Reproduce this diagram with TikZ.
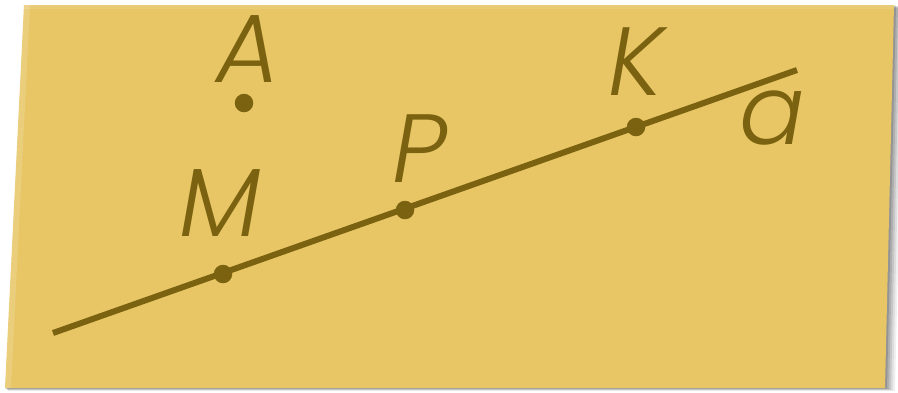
\documentclass[tikz,border=0pt]{standalone}
\usepackage{fontspec}
\setmainfont{Poppins Light}[ItalicFont={Poppins Light Italic}]
\definecolor{planefill}{RGB}{232,198,102}
\definecolor{ink}{RGB}{122,98,16}
\tikzset{
  lbl/.style={text=ink, anchor=base, inner sep=0pt, font=\fontsize{97}{97}\selectfont\itshape},
  pt/.style={circle, fill=ink, minimum size=18.5pt, inner sep=0pt},
  ln/.style={draw=ink, line width=6pt}
}
\begin{document}
\begin{tikzpicture}[x=1pt,y=-1pt]
\useasboundingbox (0,0) rectangle (898,392);
% shadow
\foreach \d/\o in {10/0.06,8/0.08,6/0.1,4/0.12,2/0.15}{
  \fill[black,opacity=\o] (24+\d*0.3,5+\d*0.3) -- (894+\d,5+\d*0.3) -- (885+\d,388+\d*0.3) -- (5+\d*0.3,388+\d*0.3) -- cycle;
}
\fill[planefill] (24,5) -- (894,5) -- (885,388) -- (5,388) -- cycle;
\fill[white,opacity=0.15] (24,5) -- (30,5) -- (11,388) -- (5,388) -- cycle;
\fill[white,opacity=0.12] (24,5) -- (894,5) -- (894,9) -- (24,9) -- cycle;
% line a
\coordinate (s) at (53,333);
\coordinate (e) at (797,70);
\draw[ln] (s) -- (e);
\node[pt] (M) at (223,274) {};
\node[pt] (P) at (405,210) {};
\node[pt] (K) at (636,127) {};
\node[pt] (A) at (244,103) {};
\node[lbl] (lA) at (248,82) {A};
\node[lbl] (lM) at (220,236) {M};
\node[lbl] (lP) at (420,182) {P};
\node[lbl] (lK) at (636,95) {K};
\node[lbl] (la) at (772,144) {a};
\end{tikzpicture}
\end{document}
